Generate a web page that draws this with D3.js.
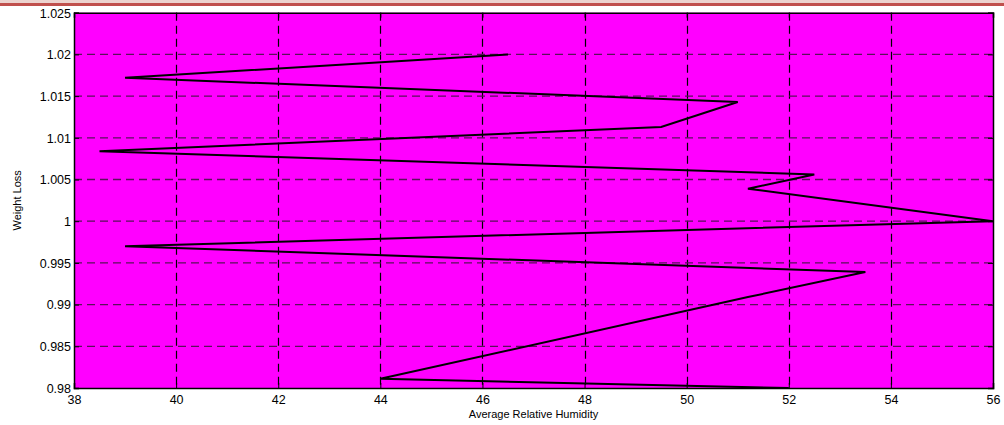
<!DOCTYPE html>
<html><head><meta charset="utf-8">
<script src="https://cdn.jsdelivr.net/npm/d3@7"></script>
<style>body{margin:0;background:#fff}svg{display:block}text{font-family:"Liberation Sans",Arial,sans-serif}</style>
</head><body><svg id="c" width="1004" height="425"></svg>
<script>
const humidity = [46.5, 39, 51, 49.5, 38.5, 52.5, 51.2, 56, 39, 53.5, 51.2, 44, 52];
const weightLoss = [1.020, 1.0172, 1.0143, 1.0113, 1.0084, 1.0056, 1.0039, 1.0, 0.997, 0.9939, 0.9909, 0.9811, 0.980];
const xTicks = [38, 40, 42, 44, 46, 48, 50, 52, 54, 56];
const yTicks = [0.98, 0.985, 0.99, 0.995, 1, 1.005, 1.01, 1.015, 1.02, 1.025];
const xTitle = "Average Relative Humidity";
const yTitle = "Weight Loss";

const svg = d3.select("#c");
const L = 74, T = 12.7, R = 993, B = 388;
const x = d3.scaleLinear().domain([38, 56]).range([L, R]);
const y = d3.scaleLinear().domain([0.98, 1.025]).range([B, T]);

svg.append("rect").attr("x",0).attr("y",0).attr("width",1004).attr("height",3).attr("fill","#ecd3cf");
svg.append("rect").attr("x",0).attr("y",3).attr("width",1004).attr("height",3).attr("fill","#c0504d");

svg.append("rect").attr("x",L).attr("y",T).attr("width",R-L).attr("height",B-T).attr("fill","#ff00ff");

const g = svg.append("g");
// grid
g.selectAll(".gx").data(xTicks.slice(1,-1)).join("line")
  .attr("x1",d=>Math.round(x(d))+0.5).attr("x2",d=>Math.round(x(d))+0.5)
  .attr("y1",T).attr("y2",B).attr("stroke","#000").attr("stroke-width",1.2)
  .attr("stroke-dasharray","8,5");
g.selectAll(".gy").data(yTicks.slice(1,-1)).join("line")
  .attr("y1",d=>y(d)).attr("y2",d=>y(d))
  .attr("x1",L).attr("x2",R).attr("stroke","#5a105a").attr("stroke-width",1.3)
  .attr("stroke-dasharray","8,5");

// axes with inward ticks
const ax = svg.append("g").attr("transform",`translate(0,${B})`)
  .call(d3.axisBottom(x).tickValues(xTicks).tickSize(-5).tickPadding(10).tickFormat(d3.format("d")));
const ay = svg.append("g").attr("transform",`translate(${L},0)`)
  .call(d3.axisLeft(y).tickValues(yTicks).tickSize(-5).tickPadding(3).tickFormat(d=>String(+d.toFixed(3))));
const at = svg.append("g").attr("transform",`translate(0,${T})`)
  .call(d3.axisTop(x).tickValues(xTicks).tickSize(-5).tickFormat(""));
const ar = svg.append("g").attr("transform",`translate(${R},0)`)
  .call(d3.axisRight(y).tickValues(yTicks).tickSize(-5).tickFormat(""));
[ax,ay,at,ar].forEach(a=>{
  a.select(".domain").attr("stroke","#000").attr("stroke-width",1.5);
  a.selectAll(".tick line").attr("stroke","#000");
  a.selectAll("text").attr("font-size",12.5).attr("fill","#000").attr("font-family","Liberation Sans, Arial, sans-serif");
});
ax.selectAll("text").attr("dy","0.45em");
ay.selectAll("text").attr("dy","0.35em");

// data line
const pts = humidity.map((h,i)=>[h, weightLoss[i]]);
svg.append("path").datum(pts)
  .attr("d", d3.line().x(d=>x(d[0])).y(d=>y(d[1])))
  .attr("fill","none").attr("stroke","#000").attr("stroke-width",2).attr("stroke-linejoin","miter");

svg.append("text").attr("x",(L+R)/2).attr("y",418).attr("text-anchor","middle")
  .attr("font-size",11).text(xTitle);
svg.append("text").attr("transform",`translate(21,${(T+B)/2}) rotate(-90)`).attr("text-anchor","middle")
  .attr("font-size",11).text(yTitle);
</script></body></html>
